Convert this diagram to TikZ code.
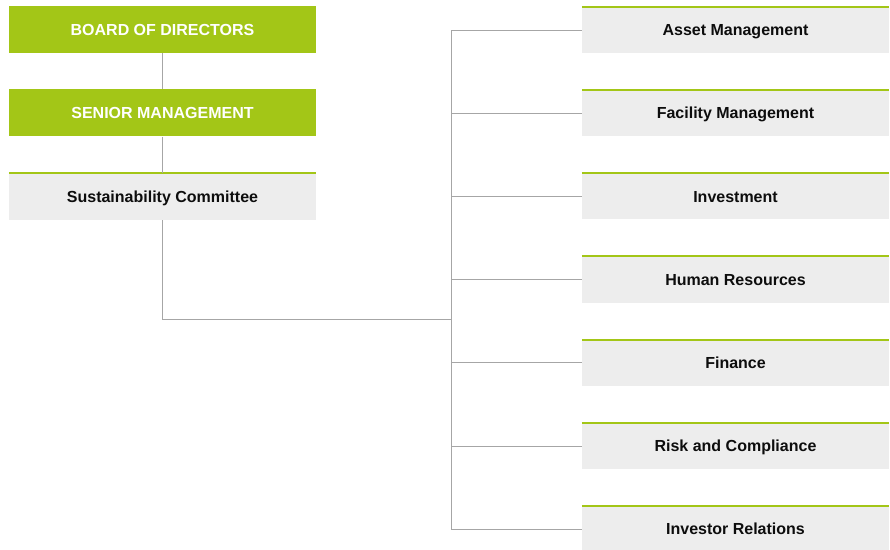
\documentclass[tikz,border=0pt]{standalone}
\usepackage{fontspec}
\setmainfont{Liberation Sans}
\usepackage{xcolor}
\usetikzlibrary{positioning, calc}

\definecolor{leafgreen}{HTML}{A3C617}
\definecolor{panelgrey}{HTML}{EDEDED}
\definecolor{wiregrey}{HTML}{A6A6A6}

\begin{document}
\begin{tikzpicture}[
    x=1pt, y=1pt,
    node distance=36pt,
    font=\bfseries\fontsize{16}{18}\selectfont,
    headbox/.style={rectangle, fill=leafgreen, text=white, minimum width=307pt, minimum height=47pt, inner sep=0pt, text height=11.5pt, text depth=0pt},
    deptbox/.style={rectangle, fill=panelgrey, text=black!95, minimum width=307pt, minimum height=46pt, inner sep=0pt, text height=11.5pt, text depth=0pt},
    wire/.style={draw=wiregrey, line width=1pt},
    topline/.style={draw=leafgreen, line width=2pt}
]
\useasboundingbox (0,0) rectangle (890,-549);

% Left column
\node[headbox] (board) at (162.5,-29.5) {BOARD OF DIRECTORS};
\node[headbox, below=36pt of board] (senior) {SENIOR MANAGEMENT};
\node[deptbox, minimum height=47pt, below=36pt of senior] (sust) {Sustainability Committee};

% Right column
\node[deptbox] (asset) at (735.5,-30) {Asset Management};
\node[deptbox, below=36.8pt of asset] (facility) {Facility Management};
\node[deptbox, below=36.8pt of facility] (invest) {Investment};
\node[deptbox, below=36.8pt of invest] (hr) {Human Resources};
\node[deptbox, below=36.8pt of hr] (finance) {Finance};
\node[deptbox, below=36.8pt of finance] (risk) {Risk and Compliance};
\node[deptbox, below=36.8pt of risk] (relations) {Investor Relations};

% Green top edges
\foreach \n in {sust, asset, facility, invest, hr, finance, risk, relations}
    \draw[topline] (\n.north west) -- (\n.north east);

% Hub of the branch lines
\coordinate (hub) at (451,-319);

% Connectors
\draw[wire] (board) -- (senior);
\draw[wire] (senior) -- (sust);
\draw[wire] (sust) |- (hub);
\draw[wire] (hub |- asset.west) -- (hub |- relations.west);
\foreach \n in {asset, facility, invest, hr, finance, risk, relations}
    \draw[wire] (hub |- \n.west) -- (\n.west);

\end{tikzpicture}
\end{document}
